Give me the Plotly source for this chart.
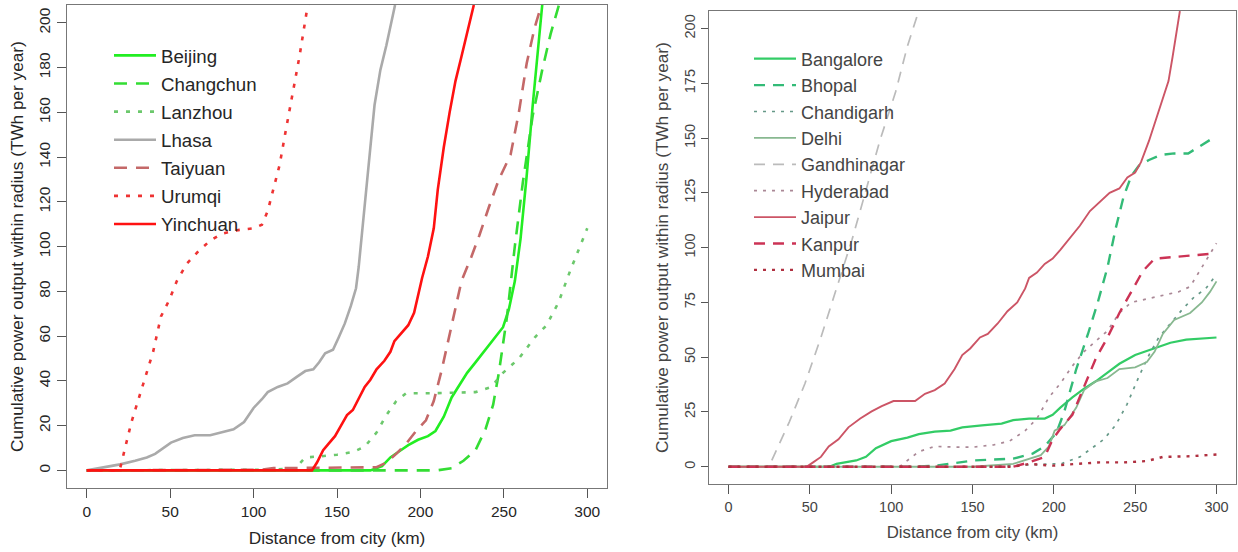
import plotly.graph_objects as go

# ---------------- Left panel (Chinese cities) ----------------
beijing_x = [0, 170, 177, 182, 186.7, 192.7, 198.6, 204.5, 209, 214, 218.7, 223.5, 228, 233, 239, 244.8, 249.5, 253, 256.6, 260, 263.7, 267.3, 270.9, 273]
beijing_y = [0, 0, 1.9, 5.8, 8.2, 11.3, 13.7, 15.3, 17.6, 24, 32.6, 38, 43.6, 48.3, 53.9, 59.4, 64, 72, 84.6, 103.5, 131.8, 163.3, 190, 208]

changchun_x = [0, 210, 218.7, 225.8, 233, 239, 243.6, 247, 251.9, 256.6, 261.4, 267.3, 273, 278, 283]
changchun_y = [0, 0, 1, 4.3, 9, 18.4, 29.4, 43.6, 68.8, 100.3, 128.8, 158.6, 179, 195, 208]

lanzhou_x = [0, 110, 125, 131, 140.5, 150, 159.5, 166.6, 173.7, 179.6, 185.5, 191.5, 209, 233, 242.4, 249.5, 259, 268.5, 275.6, 282.7, 289.8, 295.7, 300]
lanzhou_y = [0, 0.3, 1, 5.8, 6.3, 7, 8.2, 10.6, 16.9, 24.7, 31, 34.5, 34.5, 35, 37.3, 43.6, 50, 59.4, 64.9, 75, 89.3, 100.3, 108.2]

lhasa_x = [0, 8, 20, 29, 36, 41, 45.7, 50.5, 57.6, 64.7, 74, 83.6, 88, 94.3, 100, 105, 108.5, 114.5, 120.4, 126.3, 131, 135.8, 139.3, 142.9, 147.6, 151, 154.7, 158.3, 161.4, 163, 165.4, 167.8, 170, 172.5, 176, 179.6, 182, 184.8]
lhasa_y = [0, 1, 2.7, 4.3, 5.8, 7.4, 9.8, 12.4, 14.5, 15.7, 15.7, 17.6, 18.4, 21.6, 27.9, 31.8, 35, 37.3, 38.9, 42, 44.4, 45.2, 48.3, 52.3, 53.9, 59.4, 65.7, 73.5, 81.4, 90.9, 108.2, 125.5, 144.4, 163.3, 179, 190, 198, 208]

taiyuan_x = [0, 105, 112, 173.7, 179.6, 185.5, 191.5, 197.4, 203.3, 208, 212.8, 217.5, 221, 224.6, 230.6, 235.3, 241, 247, 254, 259, 263.7, 268.5, 271.3, 273]
taiyuan_y = [0, 0.3, 1, 1.4, 3.5, 7.4, 12, 17.6, 22.4, 31, 45, 61, 73.5, 84.6, 95.6, 105, 117.6, 130, 141, 160, 182, 198, 205, 208]

urumqi_x = [0, 19.7, 26.8, 33.9, 39.8, 44.5, 49.3, 54, 60, 67, 74, 81, 90.8, 100, 105, 108.5, 112, 115.6, 119, 122.7, 127.5, 132, 133]
urumqi_y = [0, 0, 21.6, 38.9, 53, 68.8, 75.9, 84.6, 92.4, 98, 102.7, 105.8, 107.4, 108.2, 109.8, 116, 125.5, 136.5, 150.7, 165, 185, 205.8, 208]

yinchuan_x = [0, 135, 138, 141.7, 145, 148.8, 152.4, 156, 159.5, 163, 166.6, 170, 173.7, 178.4, 182, 184.4, 188, 192.7, 196.2, 198.6, 201, 204.5, 208, 210.4, 214, 217.5, 221, 224.6, 228, 232]
yinchuan_y = [0, 0, 3.5, 9, 12, 15.3, 20, 24.7, 27, 31.8, 37.3, 40.5, 45.2, 49, 53, 57.8, 61, 64.9, 70.4, 78.3, 86, 95.6, 108.2, 125.5, 144.4, 160, 174, 185, 196, 208]

# ---------------- Right panel (Indian cities) ----------------
bangalore_x = [0, 62, 66.4, 78.5, 84.5, 90.6, 100, 110, 117, 126.8, 136.5, 143.7, 155.8, 167.9, 175, 184.8, 194.4, 199.3, 204, 211.4, 218.6, 225.8, 233, 240.3, 250, 259.7, 271.7, 281.4, 300]
bangalore_y = [0, 0, 1.3, 2.9, 4.5, 8.5, 11.7, 13.3, 14.9, 16, 16.5, 18, 18.9, 19.7, 21.3, 22, 22, 23.7, 27, 31.7, 35.7, 39, 43, 47, 51, 53.4, 56.6, 58, 59]

bhopal_x = [0, 110, 127, 151, 175, 187, 194.4, 201.7, 206.5, 213.8, 221, 227, 233, 238, 242.8, 247.6, 252.4, 258.5, 265.7, 274, 282.6, 291, 300]
bhopal_y = [0, 0, 0.5, 2.9, 3.7, 6, 9.3, 15.7, 25.3, 44.6, 60.6, 75, 91, 108.7, 123, 132.7, 137.5, 140, 142.3, 143, 143, 147, 151]

chandigarh_x = [0, 160, 205, 216, 223.4, 230.7, 238, 245, 252.4, 258.5, 264.5, 271.7, 279, 286.2, 293.5, 300]
chandigarh_y = [0, 0, 1.5, 4.5, 8.5, 12.5, 19, 28.5, 41.3, 51, 59, 65.4, 71.8, 77.4, 81.4, 87.8]

delhi_x = [0, 150, 175, 184.8, 192, 197, 200.5, 206.5, 213.8, 218.6, 225.8, 233, 240.3, 250, 257.2, 262, 267, 274, 283.8, 291, 296, 300]
delhi_y = [0, 0, 1.3, 3.7, 5.3, 9.3, 16.5, 19, 27, 35, 39, 40.5, 44.6, 45.4, 47.8, 52.6, 60.6, 67, 70.2, 75, 79.8, 84.6]

gandhinagar_x = [26.6, 37.4, 47, 56.8, 66.4, 76, 83.3, 93, 102.7, 110, 115.2, 117]
gandhinagar_y = [2.9, 20.5, 38, 59, 81.4, 103.8, 123, 148.7, 171, 192, 204, 208]

hyderabad_x = [0, 105, 117, 126.8, 139, 151, 163, 172.7, 182.4, 189.6, 197, 204, 211.4, 218.6, 225.8, 233, 240.3, 247.6, 257.2, 267, 276.6, 283.8, 291, 300]
hyderabad_y = [0, 0, 6.9, 9.3, 9, 9, 10, 11.7, 16.5, 22, 31.7, 38, 46, 52.6, 57.4, 62, 70.2, 75, 76.6, 78.2, 79.8, 82.2, 91, 102]

jaipur_x = [0, 48, 52, 56.8, 61.6, 67.6, 73.7, 81, 88, 94.2, 101.4, 114.7, 120.8, 126.8, 132.9, 139, 143.7, 148.6, 154.6, 159.4, 165.5, 171.5, 177.5, 182.4, 184.8, 189.6, 194.4, 199.3, 204, 210, 216, 222.2, 228.3, 234.3, 240.3, 245.2, 250, 253.6, 258.5, 263.3, 267, 270.5, 273, 275.4, 277.5]
jaipur_y = [0, 0, 2, 4.5, 9.3, 12.5, 18, 22, 25.3, 27.7, 30, 30, 33.3, 35, 38, 44.6, 51, 54, 59, 60.6, 65.4, 71, 75, 81.4, 86.2, 88.6, 92.6, 95, 99, 104.6, 110, 116.7, 120.7, 125, 127, 132, 134.3, 139, 148.7, 160, 168, 176, 187, 198.4, 208]

kanpur_x = [0, 175, 184.8, 194.4, 199.3, 204, 211.4, 218.6, 225.8, 233, 240.3, 247.6, 254.8, 262, 276.6, 300]
kanpur_y = [0, 0, 2, 4.5, 12.5, 17.3, 23.7, 36.5, 49.4, 59, 70.2, 79.8, 89.4, 95, 95.8, 97.4]

mumbai_x = [0, 175, 184.8, 199.3, 213.8, 228.3, 242.8, 257.2, 267, 283.8, 300]
mumbai_y = [0, 0, 1.3, 0.5, 1.3, 2, 2, 2.6, 4.5, 4.8, 5.6]

x_ticks = [0, 50, 100, 150, 200, 250, 300]
left_y_ticks = [0, 20, 40, 60, 80, 100, 120, 140, 160, 180, 200]
right_y_ticks = [0, 25, 50, 75, 100, 125, 150, 175, 200]

FONT = "Liberation Sans, Arial, Helvetica, sans-serif"

fig = go.Figure()

left_series = [
    ("Beijing", beijing_x, beijing_y, "#22ee22", "solid", 2.6),
    ("Changchun", changchun_x, changchun_y, "#33dd33", "13px,9px", 2.6),
    ("Lanzhou", lanzhou_x, lanzhou_y, "#6cc86c", "4px,8px", 2.6),
    ("Lhasa", lhasa_x, lhasa_y, "#aaaaaa", "solid", 2.6),
    ("Taiyuan", taiyuan_x, taiyuan_y, "#c46868", "13px,9px", 2.6),
    ("Urumqi", urumqi_x, urumqi_y, "#ee3333", "4px,8px", 2.6),
    ("Yinchuan", yinchuan_x, yinchuan_y, "#ff1111", "solid", 2.6),
]
for name, xs, ys, col, dash, w in left_series:
    fig.add_trace(go.Scatter(
        x=xs, y=ys, mode="lines", name=name, legendgroup=name,
        line=dict(color=col, dash=dash, width=w),
        xaxis="x", yaxis="y", legend="legend",
    ))

right_series = [
    ("Bangalore", bangalore_x, bangalore_y, "#33cc66", "solid", 2.2),
    ("Bhopal", bhopal_x, bhopal_y, "#33bb77", "11px,8px", 2.4),
    ("Chandigarh", chandigarh_x, chandigarh_y, "#669988", "3px,6px", 1.7),
    ("Delhi", delhi_x, delhi_y, "#88b890", "solid", 1.8),
    ("Gandhinagar", gandhinagar_x, gandhinagar_y, "#bbbbbb", "11px,8px", 1.7),
    ("Hyderabad", hyderabad_x, hyderabad_y, "#aa8896", "3px,6px", 1.7),
    ("Jaipur", jaipur_x, jaipur_y, "#cc5566", "solid", 1.9),
    ("Kanpur", kanpur_x, kanpur_y, "#cc3355", "11px,8px", 2.4),
    ("Mumbai", mumbai_x, mumbai_y, "#b03040", "3px,6px", 2.4),
]
for name, xs, ys, col, dash, w in right_series:
    fig.add_trace(go.Scatter(
        x=xs, y=ys, mode="lines", name=name,
        line=dict(color=col, dash=dash, width=w),
        xaxis="x2", yaxis="y2", legend="legend2",
    ))

W, H = 1238, 552

def px_x(v):
    return v / W

def px_y(v):
    return 1 - v / H

axis_common = dict(
    showgrid=False, zeroline=False, showline=True, mirror=True,
    linecolor="#777777", linewidth=1.3, ticks="outside", tickcolor="#555555",
    tickwidth=1.2, automargin=False,
)

fig.update_layout(
    width=W, height=H,
    margin=dict(l=0, r=0, t=0, b=0, pad=0, autoexpand=False),
    paper_bgcolor="white", plot_bgcolor="white",
    font=dict(family=FONT, color="#262626"),
    xaxis=dict(
        **axis_common, domain=[px_x(66.7), px_x(607.3)], range=[-12, 312],
        tickvals=x_ticks, ticklen=9, anchor="y",
        tickfont=dict(size=15.5, color="#262626"),
        title=dict(text="Distance from city (km)", font=dict(size=17.3), standoff=12),
    ),
    yaxis=dict(
        **axis_common, domain=[px_y(488.3), px_y(5)], range=[-8, 208],
        tickvals=left_y_ticks, ticklen=9, anchor="x", tickangle=-90,
        tickfont=dict(size=15.5, color="#262626"),
        title=dict(text="Cumulative power output within radius (TWh per year)", font=dict(size=17.2), standoff=8),
    ),
    xaxis2=dict(
        **axis_common, domain=[px_x(709), px_x(1236)], range=[-12, 312],
        tickvals=x_ticks, ticklen=9, anchor="y2",
        tickfont=dict(size=14.5, color="#444444"),
        title=dict(text="Distance from city (km)", font=dict(size=16.8, color="#444444"), standoff=12),
    ),
    yaxis2=dict(
        **axis_common, domain=[px_y(484.3), px_y(11)], range=[-8, 208],
        tickvals=right_y_ticks, ticklen=7, anchor="x2", tickangle=-90,
        tickfont=dict(size=14.5, color="#444444"),
        title=dict(text="Cumulative power output within radius (TWh per year)", font=dict(size=17.2, color="#444444"), standoff=9),
    ),
    legend=dict(
        x=px_x(109), y=px_y(36.7), xanchor="left", yanchor="top",
        bgcolor="rgba(0,0,0,0)", borderwidth=0, itemwidth=42,
        font=dict(size=18.7, color="#262626"), traceorder="grouped", tracegroupgap=0.8,
    ),
    legend2=dict(
        x=px_x(749), y=px_y(40.5), xanchor="left", yanchor="top",
        bgcolor="rgba(0,0,0,0)", borderwidth=0, itemwidth=42,
        font=dict(size=18, color="#444444"), traceorder="normal",
    ),
    showlegend=True,
)

fig.write_html(
    "out.html",
    config={"displayModeBar": False},
    post_script="document.body.style.margin='0';document.body.style.padding='0';document.body.style.overflow='hidden';",
)
